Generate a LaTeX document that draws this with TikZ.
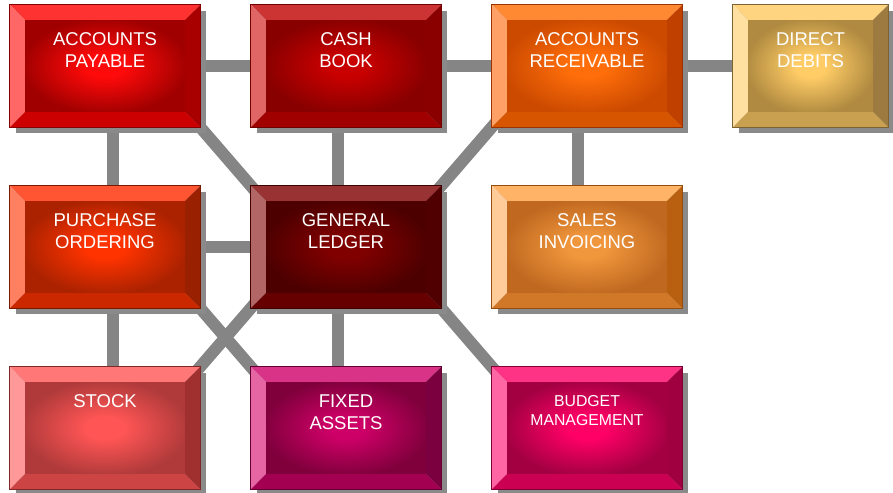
\documentclass[tikz,border=0pt]{standalone}
\usepackage{fontspec}
\setmainfont{Liberation Sans}
\usetikzlibrary{calc}
\definecolor{conncol}{HTML}{858585}
\definecolor{shadowcol}{HTML}{8A8A8A}
% per box: In (face centre), Out (face edge), T (top), L (left), R (right), B (bottom)
\definecolor{apIn}{HTML}{FF0A0A}\definecolor{apOut}{HTML}{A00000}\definecolor{apT}{HTML}{FF3232}\definecolor{apL}{HTML}{FF6666}\definecolor{apR}{HTML}{A80000}\definecolor{apB}{HTML}{CC0000}
\definecolor{cbIn}{HTML}{C80000}\definecolor{cbOut}{HTML}{880000}\definecolor{cbT}{HTML}{CC3333}\definecolor{cbL}{HTML}{E06666}\definecolor{cbR}{HTML}{8A0000}\definecolor{cbB}{HTML}{A00000}
\definecolor{arIn}{HTML}{FF6E0A}\definecolor{arOut}{HTML}{CC4A00}\definecolor{arT}{HTML}{FF8833}\definecolor{arL}{HTML}{FFA066}\definecolor{arR}{HTML}{C04000}\definecolor{arB}{HTML}{D85500}
\definecolor{ddIn}{HTML}{FFCC66}\definecolor{ddOut}{HTML}{B08A40}\definecolor{ddT}{HTML}{FFD480}\definecolor{ddL}{HTML}{FFE0A0}\definecolor{ddR}{HTML}{9C7A40}\definecolor{ddB}{HTML}{C8A050}
\definecolor{poIn}{HTML}{FF3300}\definecolor{poOut}{HTML}{AA2200}\definecolor{poT}{HTML}{FF5533}\definecolor{poL}{HTML}{FF8060}\definecolor{poR}{HTML}{992000}\definecolor{poB}{HTML}{CC2800}
\definecolor{glIn}{HTML}{800000}\definecolor{glOut}{HTML}{4D0000}\definecolor{glT}{HTML}{993333}\definecolor{glL}{HTML}{B36666}\definecolor{glR}{HTML}{500000}\definecolor{glB}{HTML}{660000}
\definecolor{siIn}{HTML}{F0963C}\definecolor{siOut}{HTML}{C06820}\definecolor{siT}{HTML}{FFB366}\definecolor{siL}{HTML}{FFCC99}\definecolor{siR}{HTML}{B86010}\definecolor{siB}{HTML}{D07828}
\definecolor{stIn}{HTML}{FF5555}\definecolor{stOut}{HTML}{B03A3A}\definecolor{stT}{HTML}{FF7777}\definecolor{stL}{HTML}{FF9999}\definecolor{stR}{HTML}{A03030}\definecolor{stB}{HTML}{CC4444}
\definecolor{faIn}{HTML}{CC0066}\definecolor{faOut}{HTML}{80003C}\definecolor{faT}{HTML}{D93388}\definecolor{faL}{HTML}{E666A3}\definecolor{faR}{HTML}{7A0040}\definecolor{faB}{HTML}{A30052}
\definecolor{bmIn}{HTML}{FF0066}\definecolor{bmOut}{HTML}{A30042}\definecolor{bmT}{HTML}{FF3385}\definecolor{bmL}{HTML}{FF66A3}\definecolor{bmR}{HTML}{A00040}\definecolor{bmB}{HTML}{CC0052}
\newcommand{\mkshade}[1]{\pgfdeclareradialshading{#1sh}{\pgfpoint{0bp}{0bp}}{color(0bp)=(#1In); color(6bp)=(#1In); color(26bp)=(#1Out); color(50bp)=(#1Out)}}
\mkshade{ap}\mkshade{cb}\mkshade{ar}\mkshade{dd}\mkshade{po}\mkshade{gl}\mkshade{si}\mkshade{st}\mkshade{fa}\mkshade{bm}
\tikzset{
  boxspot/.style={rectangle, inner sep=0pt, minimum width=190pt, minimum height=122pt},
  conn/.style={draw=conncol, line width=12pt, shorten <=-8pt, shorten >=-8pt},
  lbl/.style={text=white, align=center, inner sep=0pt, anchor=north, font=\fontsize{18.5}{22}\selectfont},
  lblsmall/.style={text=white, align=center, inner sep=0pt, anchor=north, font=\fontsize{15.8}{19}\selectfont},
}
% #1 node name (also colour prefix)
\newcommand{\drawbtn}[1]{%
  \fill[shadowcol] ($(#1.north west)+(6,6)$) rectangle ($(#1.south east)+(6,6)$);
  \shade[shading=#1sh] ($(#1.north west)+(15,15)$) rectangle ($(#1.south east)+(-15,-15)$);
  \fill[#1T] (#1.north west) -- (#1.north east) -- ($(#1.north east)+(-15,15)$) -- ($(#1.north west)+(15,15)$) -- cycle;
  \fill[#1L] (#1.north west) -- ($(#1.north west)+(15,15)$) -- ($(#1.south west)+(15,-15)$) -- (#1.south west) -- cycle;
  \fill[#1R] (#1.north east) -- ($(#1.north east)+(-15,15)$) -- ($(#1.south east)+(-15,-15)$) -- (#1.south east) -- cycle;
  \fill[#1B] (#1.south west) -- ($(#1.south west)+(15,-15)$) -- ($(#1.south east)+(-15,-15)$) -- (#1.south east) -- cycle;
  \draw[#1R!80!black, line width=0.8pt] (#1.north west) rectangle (#1.south east);
}
\begin{document}
\begin{tikzpicture}[x=1pt,y=-1pt]
\useasboundingbox (0,0) rectangle (893,492);
% box positions
\node[boxspot] (ap) at (105,66) {};
\node[boxspot] (cb) at (346,66) {};
\node[boxspot] (ar) at (587,66) {};
\node[boxspot, minimum width=155pt] (dd) at (810.5,66) {};
\node[boxspot] (po) at (105,247) {};
\node[boxspot] (gl) at (346,247) {};
\node[boxspot] (si) at (587,247) {};
\node[boxspot] (st) at (105,428) {};
\node[boxspot] (fa) at (346,428) {};
\node[boxspot] (bm) at (587,428) {};
% connectors
\draw[conn] (ap) -- (cb);
\draw[conn] (cb) -- (ar);
\draw[conn] (ar) -- (dd);
\draw[conn] (po) -- (gl);
\draw[conn] ([xshift=8pt]ap.south) -- ([xshift=8pt]po.north);
\draw[conn] ([xshift=8pt]po.south) -- ([xshift=8pt]st.north);
\draw[conn] ([xshift=-8.5pt]cb.south) -- ([xshift=-8.5pt]gl.north);
\draw[conn] ([xshift=-8.5pt]gl.south) -- ([xshift=-8.5pt]fa.north);
\draw[conn] ([xshift=-9pt]ar.south) -- ([xshift=-9pt]si.north);
\draw[conn] (ap.south east) -- (gl.north west);
\draw[conn] (ar.south west) -- (gl.north east);
\draw[conn] (po.south east) -- (fa.north west);
\draw[conn] (gl.south west) -- (st.north east);
\draw[conn] (gl.south east) -- (bm.north west);
% boxes
\drawbtn{ap}\drawbtn{cb}\drawbtn{ar}\drawbtn{dd}
\drawbtn{po}\drawbtn{gl}\drawbtn{si}
\drawbtn{st}\drawbtn{fa}\drawbtn{bm}
% labels
\node[lbl] (tap) at ($(ap.north)+(0,28)$) {ACCOUNTS\\PAYABLE};
\node[lbl] (tcb) at ($(cb.north)+(0,28)$) {CASH\\BOOK};
\node[lbl] (tar) at ($(ar.north)+(0,28)$) {ACCOUNTS\\RECEIVABLE};
\node[lbl] (tdd) at ($(dd.north)+(0,28)$) {DIRECT\\DEBITS};
\node[lbl] (tpo) at ($(po.north)+(0,28)$) {PURCHASE\\ORDERING};
\node[lbl] (tgl) at ($(gl.north)+(0,28)$) {GENERAL\\LEDGER};
\node[lbl] (tsi) at ($(si.north)+(0,28)$) {SALES\\INVOICING};
\node[lbl] (tst) at ($(st.north)+(0,28)$) {STOCK};
\node[lbl] (tfa) at ($(fa.north)+(0,28)$) {FIXED\\ASSETS};
\node[lblsmall] (tbm) at ($(bm.north)+(0,28)$) {BUDGET\\MANAGEMENT};
\end{tikzpicture}
\end{document}
